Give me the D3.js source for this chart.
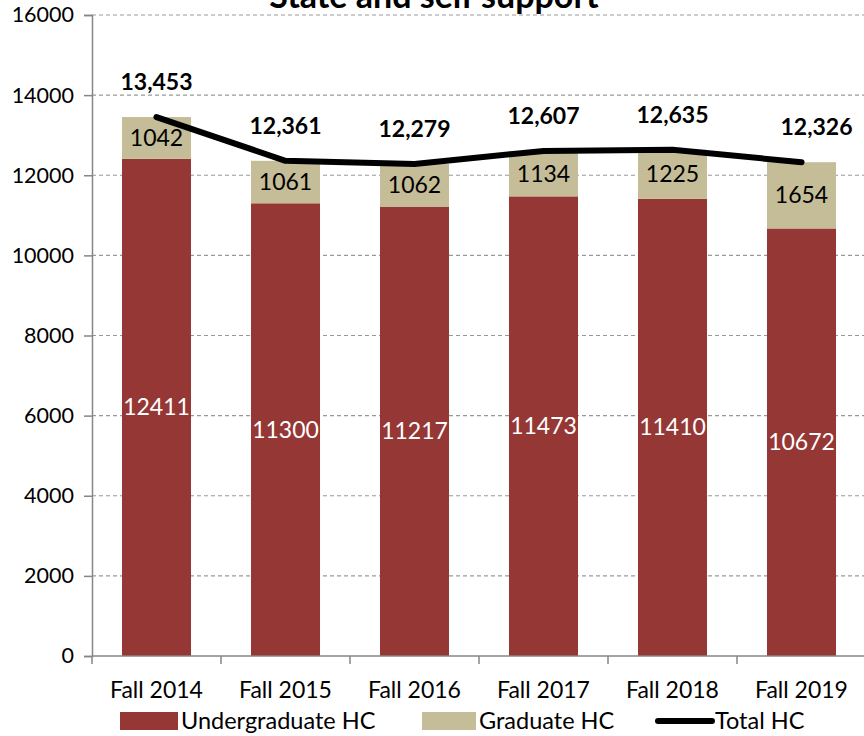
<!DOCTYPE html>
<html><head><meta charset="utf-8">
<script src="https://cdn.jsdelivr.net/npm/d3@7"></script>
<style>body{margin:0;background:#fff}svg{display:block}text{font-family:Lato,"Open Sans",sans-serif}</style>
</head><body>
<svg id="c" width="864" height="736"></svg>
<script>
const categories = ["Fall 2014","Fall 2015","Fall 2016","Fall 2017","Fall 2018","Fall 2019"];
const undergrad = [12411,11300,11217,11473,11410,10672];
const graduate = [1042,1061,1062,1134,1225,1654];
const total = [13453,12361,12279,12607,12635,12326];
const yTicks = [0,2000,4000,6000,8000,10000,12000,14000,16000];
const title = "State and self support";

const svg = d3.select("#c");
const L = 92, R = 866, T = 15, B = 656;
const x = d3.scaleBand().domain(categories).range([L, R]).paddingInner(0.465).paddingOuter(0.2325);
const y = d3.scaleLinear().domain([0,16000]).range([B, T]);
const cx = c => x(c) + x.bandwidth()/2;

// gridlines
svg.append("g").selectAll("line").data(yTicks.filter(d=>d>0)).join("line")
  .attr("x1", L).attr("x2", 864).attr("y1", d=>y(d)).attr("y2", d=>y(d))
  .attr("stroke", "#999").attr("stroke-dasharray", "4,3").attr("stroke-width", 1.2);

// y axis
const ya = svg.append("g").attr("transform", `translate(${L},0)`)
  .call(d3.axisLeft(y).tickValues(yTicks).tickSize(8).tickPadding(10).tickFormat(d3.format("d")));
ya.select(".domain").attr("stroke", "#868686").attr("stroke-width", 1.5);
ya.selectAll(".tick line").attr("stroke", "#868686").attr("stroke-width", 1.5);
ya.selectAll(".tick text").attr("font-size", 21.5).attr("fill", "#000").attr("font-family", "Lato");

// bars
const gb = svg.append("g");
gb.selectAll(".u").data(categories).join("rect")
  .attr("x", d=>x(d)).attr("width", x.bandwidth())
  .attr("y", (d,i)=>y(undergrad[i])).attr("height", (d,i)=>y(0)-y(undergrad[i]))
  .attr("fill", "#953735");
gb.selectAll(".g").data(categories).join("rect")
  .attr("x", d=>x(d)).attr("width", x.bandwidth())
  .attr("y", (d,i)=>y(undergrad[i]+graduate[i])).attr("height", (d,i)=>y(undergrad[i])-y(undergrad[i]+graduate[i]))
  .attr("fill", "#c4bd97");

// x axis
const xa = svg.append("g").attr("transform", `translate(0,${B})`);
xa.append("line").attr("x1", L).attr("x2", 864).attr("stroke", "#868686").attr("stroke-width", 1.5);
const bounds = categories.map(c => x(c) - x.step()*x.paddingInner()/2).concat([R]);
xa.selectAll(".t").data(bounds).join("line")
  .attr("x1", d=>d).attr("x2", d=>d).attr("y1", 0).attr("y2", 8)
  .attr("stroke", "#868686").attr("stroke-width", 1.5);
xa.selectAll("text").data(categories).join("text")
  .attr("x", d=>cx(d)).attr("y", 42).attr("text-anchor", "middle")
  .attr("font-size", 23).text(d=>d);

// bar labels
gb.selectAll(".ul").data(categories).join("text")
  .attr("x", d=>cx(d)).attr("y", (d,i)=>y(undergrad[i]/2)).attr("dy", "0.35em")
  .attr("text-anchor", "middle").attr("font-size", 23).attr("fill", "#fff")
  .text((d,i)=>undergrad[i]);
gb.selectAll(".gl").data(categories).join("text")
  .attr("x", d=>cx(d)).attr("y", (d,i)=>y(undergrad[i]+graduate[i]/2)).attr("dy", "0.35em")
  .attr("text-anchor", "middle").attr("font-size", 23).attr("fill", "#000")
  .text((d,i)=>graduate[i]);

// total line
const line = d3.line().x((d,i)=>cx(categories[i])).y(d=>y(d));
svg.append("path").datum(total).attr("d", line).attr("fill", "none")
  .attr("stroke", "#000").attr("stroke-width", 6).attr("stroke-linecap", "round").attr("stroke-linejoin", "round");
svg.append("g").selectAll("text").data(total).join("text")
  .attr("x", (d,i)=>cx(categories[i]) + (i===5 ? 15 : 0)).attr("y", d=>y(d)-27)
  .attr("text-anchor", "middle").attr("font-size", 23).attr("font-weight", "bold")
  .text(d=>d3.format(",")(d));

// title
svg.append("text").attr("x", 434).attr("y", 8).attr("text-anchor", "middle")
  .attr("font-size", 34).attr("font-weight", "bold").text(title);

// legend
const lg = svg.append("g");
lg.append("rect").attr("x", 120).attr("y", 712).attr("width", 58).attr("height", 18).attr("fill", "#953735");
lg.append("text").attr("x", 181).attr("y", 729).attr("font-size", 23.5).text("Undergraduate HC");
lg.append("rect").attr("x", 422).attr("y", 712).attr("width", 54).attr("height", 18).attr("fill", "#c4bd97");
lg.append("text").attr("x", 479).attr("y", 729).attr("font-size", 23.5).text("Graduate HC");
lg.append("line").attr("x1", 658).attr("x2", 712).attr("y1", 721).attr("y2", 721)
  .attr("stroke", "#000").attr("stroke-width", 6).attr("stroke-linecap", "round");
lg.append("text").attr("x", 715).attr("y", 729).attr("font-size", 23.5).text("Total HC");
</script>
</body></html>
